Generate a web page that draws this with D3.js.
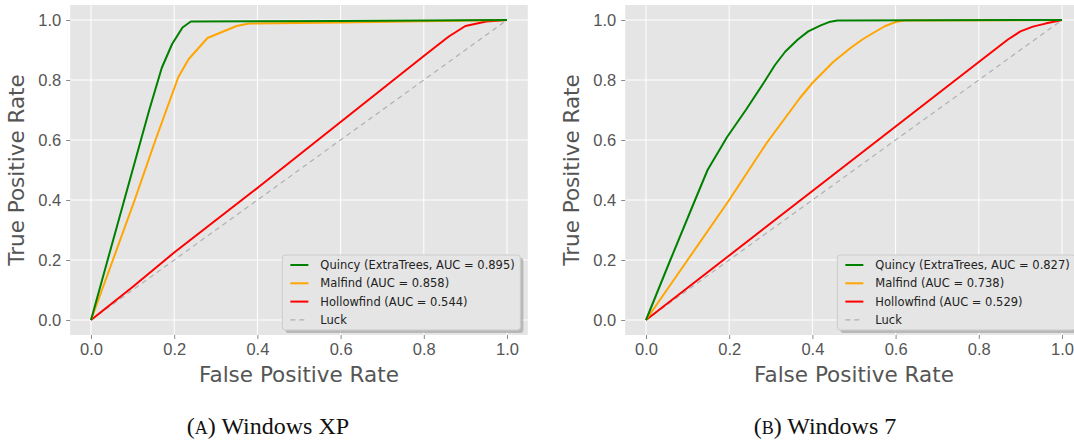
<!DOCTYPE html>
<html>
<head>
<meta charset="utf-8">
<script src="https://cdn.jsdelivr.net/npm/d3@7"></script>
<style>
  body { margin: 0; background: #fff; }
  svg { display: block; font-family: "DejaVu Sans", sans-serif; }
  .tick text { fill: #555; font-size: 16.5px; }
  .tick line { stroke: #888; }
  .domain { display: none; }
  .axis-label { fill: #555; font-size: 21.5px; }
  .legend text { fill: #222; font-size: 11.5px; }
  .caption { font-family: "Liberation Serif", "DejaVu Serif", serif; font-size: 24px; fill: #111; }
</style>
</head>
<body>
<svg id="chart" width="1074" height="442"></svg>
<script>
// ticks
const tickValues = [0, 0.2, 0.4, 0.6, 0.8, 1.0];

// Windows XP
const xpQuincy = [[0,0],[0.04,0.2],[0.1,0.5],[0.14,0.7],[0.17,0.84],[0.195,0.92],[0.22,0.975],[0.24,0.995],[0.6,0.997],[1,1]];
const xpMalfind = [[0,0],[0.05,0.19],[0.105,0.4],[0.155,0.6],[0.21,0.81],[0.235,0.87],[0.28,0.94],[0.35,0.98],[0.38,0.988],[0.6,0.992],[1,1]];
const xpHollow = [[0,0],[0.1,0.11],[0.2,0.225],[0.4,0.44],[0.6,0.66],[0.8,0.88],[0.86,0.945],[0.9,0.98],[0.95,0.995],[1,1]];
const xpLabels = ["Quincy (ExtraTrees, AUC = 0.895)", "Malfind (AUC = 0.858)", "Hollowfind (AUC = 0.544)", "Luck"];

// Windows 7
const w7Quincy = [[0,0],[0.057,0.195],[0.115,0.39],[0.148,0.5],[0.195,0.61],[0.24,0.7],[0.285,0.795],[0.31,0.85],[0.335,0.895],[0.365,0.935],[0.39,0.962],[0.42,0.982],[0.44,0.993],[0.46,0.998],[1,1]];
const w7Malfind = [[0,0],[0.1,0.2],[0.2,0.4],[0.29,0.59],[0.37,0.74],[0.4,0.79],[0.45,0.86],[0.49,0.905],[0.52,0.935],[0.55,0.96],[0.575,0.98],[0.6,0.993],[0.62,0.998],[1,1]];
const w7Hollow = [[0,0],[0.2,0.215],[0.4,0.43],[0.6,0.645],[0.8,0.86],[0.87,0.935],[0.9,0.962],[0.93,0.978],[0.96,0.988],[1,1]];
const w7Labels = ["Quincy (ExtraTrees, AUC = 0.827)", "Malfind (AUC = 0.738)", "Hollowfind (AUC = 0.529)", "Luck"];

const luck = [[0,0],[1,1]];
const colors = ["green", "orange", "red", "#b0b0b0"];

const svg = d3.select("#chart");

function drawPanel(left, series, labels, caption, captionX) {
  // matplotlib-style 5% padding on both axes
  const x = d3.scaleLinear().domain([-0.05, 1.05]).range([left, left + 457.6]);
  const y = d3.scaleLinear().domain([-0.05, 1.05]).range([335, 5]);

  const g = svg.append("g");

  g.append("rect")
    .attr("x", x(-0.05)).attr("y", y(1.05))
    .attr("width", x(1.05) - x(-0.05)).attr("height", y(-0.05) - y(1.05))
    .attr("fill", "#e5e5e5");

  // grid
  g.selectAll(".gx").data(tickValues).enter().append("line")
    .attr("x1", d => x(d)).attr("x2", d => x(d))
    .attr("y1", y(1.05)).attr("y2", y(-0.05))
    .attr("stroke", "#fff").attr("stroke-width", 1);
  g.selectAll(".gy").data(tickValues).enter().append("line")
    .attr("y1", d => y(d)).attr("y2", d => y(d))
    .attr("x1", x(-0.05)).attr("x2", x(1.05))
    .attr("stroke", "#fff").attr("stroke-width", 1);

  g.append("g")
    .attr("transform", `translate(0,${y(-0.05)})`)
    .call(d3.axisBottom(x).tickValues(tickValues).tickFormat(d3.format(".1f")).tickSize(4).tickPadding(4));
  g.append("g")
    .attr("transform", `translate(${x(-0.05)},0)`)
    .call(d3.axisLeft(y).tickValues(tickValues).tickFormat(d3.format(".1f")).tickSize(4).tickPadding(5))
    .selectAll("text").attr("dy", "0.35em");

  const line = d3.line().x(d => x(d[0])).y(d => y(d[1]));

  g.append("path").datum(luck)
    .attr("d", line).attr("fill", "none")
    .attr("stroke", colors[3]).attr("stroke-width", 1.2).attr("stroke-dasharray", "5,4");

  series.slice().reverse().forEach((s, i) => {
    g.append("path").datum(s)
      .attr("d", line).attr("fill", "none")
      .attr("stroke", colors[series.length - 1 - i]).attr("stroke-width", 2)
      .attr("stroke-linejoin", "round");
  });

  // axis labels
  g.append("text").attr("class", "axis-label")
    .attr("x", x(0.5)).attr("y", 382).attr("text-anchor", "middle")
    .text("False Positive Rate");
  g.append("text").attr("class", "axis-label")
    .attr("transform", `translate(${left - 46},${y(0.5)}) rotate(-90)`)
    .attr("text-anchor", "middle")
    .text("True Positive Rate");

  // legend
  const lx = x(0.46), ly = 255, lw = 238, lh = 75;
  const leg = g.append("g").attr("class", "legend");
  leg.append("rect").attr("x", lx + 3).attr("y", ly + 3).attr("width", lw).attr("height", lh)
    .attr("rx", 3).attr("fill", "#999").attr("opacity", 0.6);
  leg.append("rect").attr("x", lx).attr("y", ly).attr("width", lw).attr("height", lh)
    .attr("rx", 3).attr("fill", "#e5e5e5").attr("stroke", "#cccccc");
  labels.forEach((t, i) => {
    const yy = ly + 10 + i * 18.3;
    leg.append("line")
      .attr("x1", lx + 8).attr("x2", lx + 26).attr("y1", yy).attr("y2", yy)
      .attr("stroke", colors[i]).attr("stroke-width", i === 3 ? 1.2 : 2)
      .attr("stroke-dasharray", i === 3 ? "5,4" : null);
    leg.append("text").attr("x", lx + 38).attr("y", yy).attr("dy", "0.35em").text(t);
  });

  // caption
  const cap = svg.append("text").attr("class", "caption")
    .attr("x", captionX).attr("y", 434).attr("text-anchor", "middle");
  cap.append("tspan").text("(");
  cap.append("tspan").attr("font-size", "18px").text(caption[0]);
  cap.append("tspan").text(") " + caption[1]);
}

drawPanel(70.2, [xpQuincy, xpMalfind, xpHollow], xpLabels, ["A", "Windows XP"], 268);
drawPanel(625.2, [w7Quincy, w7Malfind, w7Hollow], w7Labels, ["B", "Windows 7"], 825);
</script>
</body>
</html>
